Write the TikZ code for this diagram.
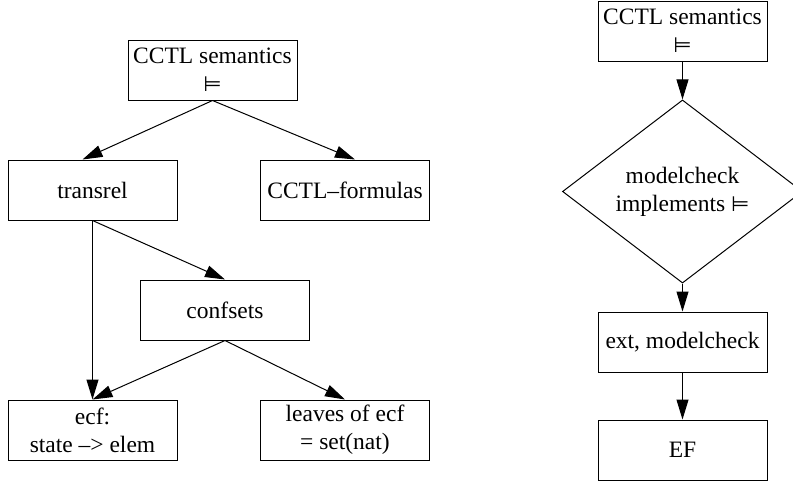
\documentclass[tikz,border=0pt]{standalone}
\usepackage{amsmath, amssymb}
\usepackage{fontspec}
\setmainfont{Liberation Serif}
\newfontfamily\symfont{DejaVu Sans}
\usetikzlibrary{arrows.meta, positioning, shapes.geometric}

\newcommand{\boxfont}{\fontsize{23.5}{28}\selectfont}
\newcommand{\sat}{{\symfont\fontsize{21}{28}\selectfont ⊨}}

\begin{document}
\begin{tikzpicture}[x=1pt, y=1pt, node distance=120pt,
  box/.style={draw, rectangle, line width=1pt, minimum width=169pt, minimum height=60pt, inner sep=0pt, align=center, font=\boxfont},
  test/.style={draw, diamond, line width=1pt, minimum width=240pt, minimum height=143pt, inner sep=0pt, align=center, font=\boxfont},
  arr/.style={-{Triangle[length=20pt, width=12pt]}, line width=1pt}]
\useasboundingbox (0,0) rectangle (793,-482);

% Left graph
\node (sem) [box] at (212.5,-70) {CCTL semantics\\\sat};
\node (trans) [box, below of=sem, xshift=-120pt] {transrel};
\node (forms) [box, below of=sem, xshift=132.5pt] {CCTL--formulas};
\node (conf) [box, below of=trans, xshift=132.5pt] {confsets};
\node (ecf) [box, below of=conf, xshift=-132.5pt] {ecf:\\state {\textendash}> elem};
\node (leaves) [box, node distance=240pt, below of=forms] {leaves of ecf\\= set(nat)};

% Right graph
\node (sem2) [box] at (682.5,-31) {CCTL semantics\\\sat};
\node (mc) [test, node distance=160.5pt, below of=sem2] {modelcheck\\implements \sat};
\node (ext) [box, node distance=150.5pt, below of=mc] {ext, modelcheck};
\node (ef) [box, node distance=108pt, below of=ext] {EF};

% Arrows of the left graph
\draw[arr] (sem.south) -- ([xshift=-10pt]trans.north);
\draw[arr] (sem.south) -- ([xshift=10pt]forms.north);
\draw[arr] (trans.south) -- (conf.north);
\draw[arr] (trans.south) -- (ecf.north);
\draw[arr] (conf.south) -- (ecf.north);
\draw[arr] (conf.south) -- (leaves.north);

% Arrows of the right graph
\draw[arr] (sem2.south) -- (mc.north);
\draw[arr] (mc.south) -- (ext.north);
\draw[arr] (ext.south) -- (ef.north);
\end{tikzpicture}
\end{document}
